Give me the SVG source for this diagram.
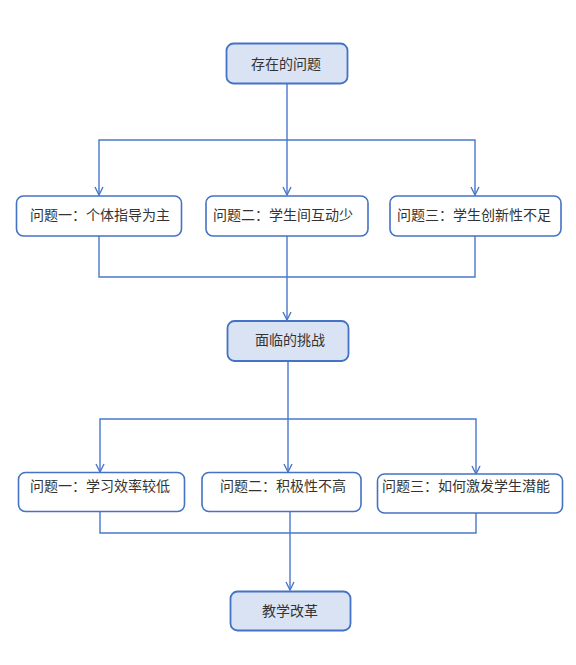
<svg xmlns="http://www.w3.org/2000/svg" width="576" height="665" viewBox="0 0 576 665">
<defs>
<style>
.main rect{fill:#dae3f3;stroke:#4472c4;stroke-width:1.8}
.sub rect{fill:#ffffff;stroke:#4472c4;stroke-width:1.6}
text{font-family:"Noto Sans CJK SC","Noto Sans",sans-serif;font-size:14px;fill:#333333}
.conn path{fill:none;stroke:#4a78cc;stroke-width:1.4}
</style>
<marker id="arr" markerWidth="10" markerHeight="10" refX="9" refY="5" orient="auto" markerUnits="userSpaceOnUse" viewBox="0 0 10 10">
<path d="M1,1 L9,5 L1,9" fill="none" stroke="#4a78cc" stroke-width="1.4"/>
</marker>
</defs>
<rect width="576" height="665" fill="#ffffff"/>
<g class="conn" id="connectors">
<path d="M287,84 V140"/>
<path d="M287,140 H99 V195" marker-end="url(#arr)"/>
<path d="M287,140 V195" marker-end="url(#arr)"/>
<path d="M287,140 H475 V195" marker-end="url(#arr)"/>
<path d="M99,236 V277 H475 V236"/>
<path d="M287,236 V320" marker-end="url(#arr)"/>
<path d="M288,361 V419"/>
<path d="M288,419 H100 V472" marker-end="url(#arr)"/>
<path d="M288,419 V472" marker-end="url(#arr)"/>
<path d="M288,419 H476 V474" marker-end="url(#arr)"/>
<path d="M100,490 V533 H476 V492"/>
<path d="M290,494 V590" marker-end="url(#arr)"/>
</g>
<g id="n_top" class="main"><rect x="226.5" y="43.5" width="121" height="40" rx="7"/><text x="286" y="69" text-anchor="middle">存在的问题</text></g>
<g id="n_p1" class="sub"><rect x="16.5" y="196" width="165" height="40" rx="7"/><text x="30" y="220">问题一：个体指导为主</text></g>
<g id="n_p2" class="sub"><rect x="206" y="196" width="162" height="40" rx="7"/><text x="213" y="220">问题二：学生间互动少</text></g>
<g id="n_p3" class="sub"><rect x="390" y="196" width="171" height="40" rx="7"/><text x="397" y="220">问题三：学生创新性不足</text></g>
<g id="n_mid" class="main"><rect x="227.5" y="321" width="121" height="40" rx="7"/><text x="290" y="345" text-anchor="middle">面临的挑战</text></g>
<g id="n_c1" class="sub"><rect x="18.5" y="472.5" width="166" height="39" rx="7"/><text x="30" y="491">问题一：学习效率较低</text></g>
<g id="n_c2" class="sub"><rect x="202" y="472.5" width="159" height="39" rx="7"/><text x="220" y="491">问题二：积极性不高</text></g>
<g id="n_c3" class="sub"><rect x="377.5" y="474" width="185" height="39" rx="7"/><text x="382" y="491">问题三：如何激发学生潜能</text></g>
<g id="n_end" class="main"><rect x="230.5" y="591.5" width="120" height="39" rx="7"/><text x="290" y="616" text-anchor="middle">教学改革</text></g>
</svg>
